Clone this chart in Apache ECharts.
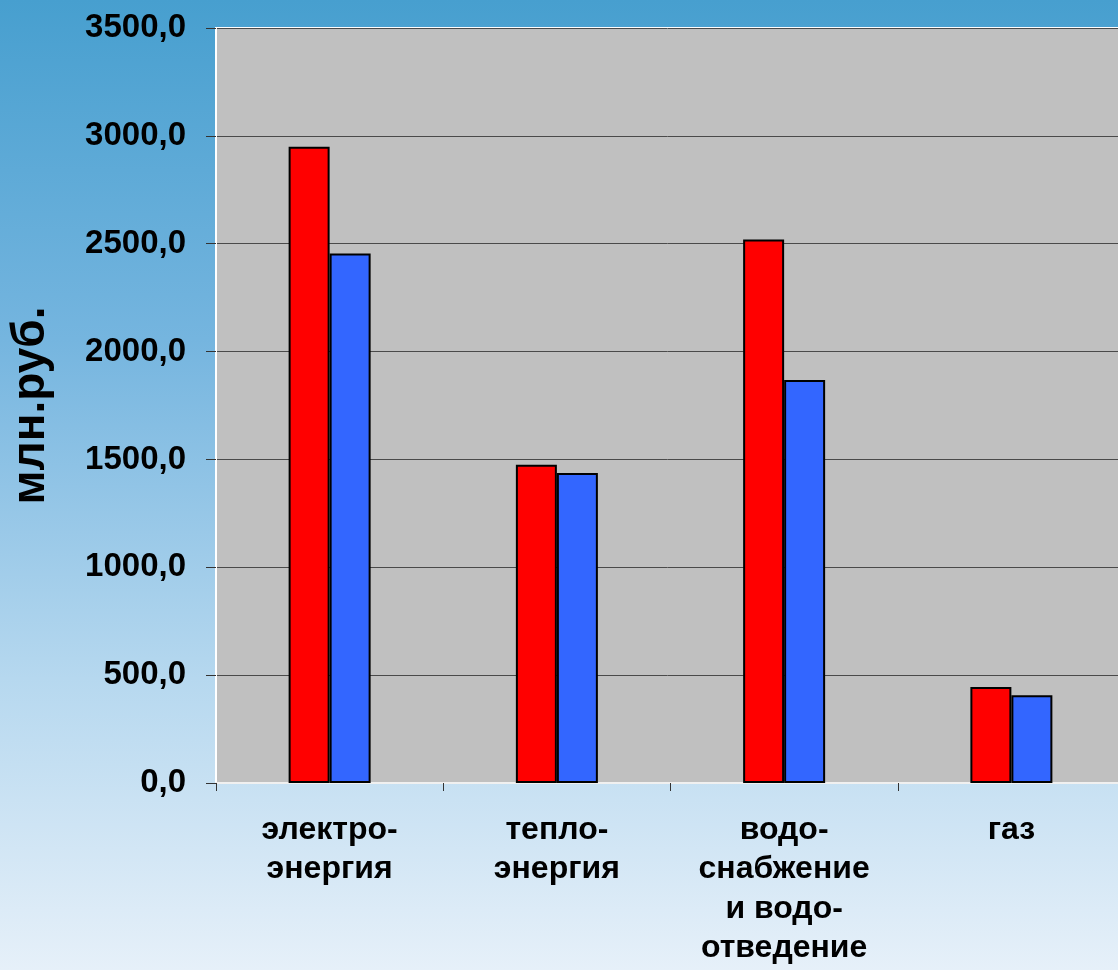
<!DOCTYPE html>
<html>
<head>
<meta charset="utf-8">
<script src="https://cdn.jsdelivr.net/npm/echarts@6/dist/echarts.min.js"></script>
<style>
html,body{margin:0;padding:0;}
#chart{width:1118px;height:970px;}
</style>
</head>
<body>
<div id="chart"></div>
<script>
const categories = ['электро-\nэнергия', 'тепло-\nэнергия', 'водо-\nснабжение\nи водо-\nотведение', 'газ'];
const redValues = [2950, 1475, 2520, 445];
const blueValues = [2455, 1437, 1868, 407];
const yTicks = { min: 0, max: 3500, interval: 500 };
const yAxisTitle = 'млн.руб.';

const chart = echarts.init(document.getElementById('chart'));
const font = 'Liberation Sans, Arial, sans-serif';
chart.setOption({
  animation: false,
  backgroundColor: new echarts.graphic.LinearGradient(0, 0, 0, 1, [
    { offset: 0, color: '#479fcf' },
    { offset: 0.35, color: '#75b5df' },
    { offset: 0.7, color: '#b6d8ef' },
    { offset: 1, color: '#e6f0f9' }
  ]),
  grid: {
    left: 216, right: -7, top: 28, bottom: 187,
    containLabel: false, outerBoundsMode: 'none',
    show: true, backgroundColor: '#c0c0c0', borderColor: '#ffffff', borderWidth: 2
  },
  xAxis: {
    type: 'category',
    data: categories,
    boundaryGap: true,
    axisLine: { show: true, lineStyle: { color: '#f0f0f0', width: 2 } },
    axisTick: { show: true, length: 8, lineStyle: { color: '#333' }, alignWithLabel: false },
    axisLabel: {
      interval: 0, margin: 27, color: '#000', fontFamily: font, fontWeight: 'bold',
      fontSize: 32, lineHeight: 39.5
    }
  },
  yAxis: {
    type: 'value',
    min: yTicks.min, max: yTicks.max, interval: yTicks.interval,
    name: yAxisTitle, nameLocation: 'middle', nameGap: 162, nameRotate: 90,
    nameTextStyle: { color: '#000', fontFamily: font, fontWeight: 'bold', fontSize: 46 },
    axisLine: { show: true, lineStyle: { color: '#ffffff', width: 2 } },
    axisTick: { show: true, length: 10, lineStyle: { color: '#333' } },
    axisLabel: {
      margin: 30, color: '#000', fontFamily: font, fontWeight: 'bold', fontSize: 33,
      formatter: v => v.toFixed(1).replace('.', ',')
    },
    splitLine: { show: true, lineStyle: { color: '#4a4a4a', width: 1 } }
  },
  series: [
    {
      type: 'bar', data: redValues, barWidth: 41, barGap: '0%',
      itemStyle: { color: '#ff0000', borderColor: '#000', borderWidth: 2 }
    },
    {
      type: 'bar', data: blueValues, barWidth: 41, barGap: '0%',
      itemStyle: { color: '#3366ff', borderColor: '#000', borderWidth: 2 }
    }
  ]
});
</script>
</body>
</html>
